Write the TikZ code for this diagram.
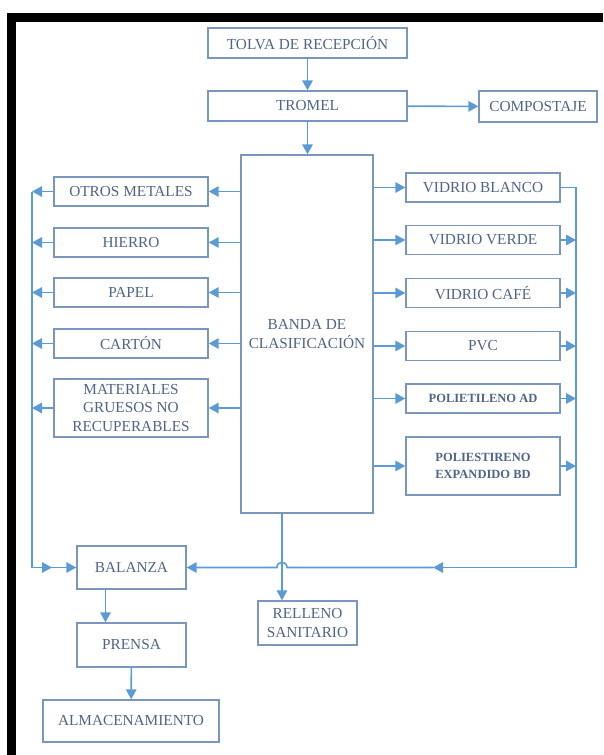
\documentclass[tikz,border=0pt]{standalone}
\usepackage{fontspec}
\setmainfont{Liberation Serif}
\usetikzlibrary{arrows.meta,calc}
\definecolor{boxline}{HTML}{7B96BD}
\definecolor{flow}{HTML}{5B9BD5}
\definecolor{label}{HTML}{506486}
\begin{document}
\begin{tikzpicture}[x=1pt,y=-1pt,
  box/.style={draw=boxline,line width=1.4pt,inner sep=0pt,align=center,
    text=label,font=\fontsize{15.3}{18.5}\selectfont},
  smallbox/.style={box,font=\bfseries\fontsize{12.5}{17}\selectfont},
  conn/.style={draw=flow,line width=1.6pt},
  arr/.style={conn,-{Triangle[length=10pt,width=10.5pt]}}]
\useasboundingbox (0,0) rectangle (603,755);
% black frame along the top and left edges
\fill[black] (7,13) rectangle (603,22);
\fill[black] (7,13) rectangle (16,755);

% process boxes
\node[box,minimum width=199,minimum height=30] (tolva) at (307.5,43) {TOLVA DE RECEPCIÓN};
\node[box,minimum width=199,minimum height=30] (tromel) at (307.5,106) {TROMEL};
\node[box,minimum width=118,minimum height=31] (compost) at (538,106.5) {COMPOSTAJE};
\node[box,minimum width=132,minimum height=358] (banda) at (307,334) {BANDA DE\\CLASIFICACIÓN};

% left column
\node[box,minimum width=154,minimum height=29] (otros) at (131,191.5) {OTROS METALES};
\node[box,minimum width=154,minimum height=29] (hierro) at (131,242.5) {HIERRO};
\node[box,minimum width=154,minimum height=29] (papel) at (131,292.5) {PAPEL};
\node[box,minimum width=154,minimum height=29] (carton) at (131,343.5) {CARTÓN};
\node[box,minimum width=154,minimum height=58] (gruesos) at (131,408) {MATERIALES\\GRUESOS NO\\RECUPERABLES};

% right column
\node[box,minimum width=154,minimum height=29] (blanco) at (483,187.5) {VIDRIO BLANCO};
\node[box,minimum width=154,minimum height=29] (verde) at (483,240) {VIDRIO VERDE};
\node[box,minimum width=154,minimum height=29] (cafe) at (483,293) {VIDRIO CAFÉ};
\node[box,minimum width=154,minimum height=29] (pvc) at (483,346) {PVC};
\node[smallbox,minimum width=154,minimum height=29] (pead) at (483,398.5) {POLIETILENO AD};
\node[smallbox,minimum width=154,minimum height=58] (eps) at (483,466) {POLIESTIRENO\\EXPANDIDO BD};

% lower part
\node[box,minimum width=109,minimum height=43] (balanza) at (131.5,567.5) {BALANZA};
\node[box,minimum width=109,minimum height=44] (prensa) at (131.5,645) {PRENSA};
\node[box,minimum width=176,minimum height=42] (almac) at (131,721) {ALMACENAMIENTO};
\node[box,minimum width=99,minimum height=44] (relleno) at (307.5,623) {RELLENO\\SANITARIO};

% collector lines
\coordinate (lbus) at (32,0);
\coordinate (rbus) at (576,0);
\coordinate (lmid) at (52,0);
\coordinate (rmid) at (433,0);
\coordinate (hop) at (282,0);

% main flow
\draw[arr] (tolva) -- (tromel);
\draw[arr] (tromel) -- (tromel |- banda.north);
\draw[arr] (tromel) -- (compost);

% sorting belt to each fraction
\foreach \n in {otros,hierro,papel,carton,gruesos}
  \draw[arr] (banda.west |- \n) -- (\n.east);
\foreach \n in {blanco,verde,cafe,pvc,pead,eps}
  \draw[arr] (banda.east |- \n) -- (\n.west);

% left collector to the scale
\foreach \n in {otros,hierro,papel,carton,gruesos}
  \draw[arr] (\n.west) -- (\n.west -| lbus);
\draw[conn] (otros.west -| lbus) -- (balanza.west -| lbus) -- (balanza.west -| lmid);
\draw[arr] (balanza.west -| lbus) -- (balanza.west -| lmid);
\draw[arr] (balanza.west -| lmid) -- (balanza.west);

% right collector to the scale
\foreach \n in {verde,cafe,pvc,pead,eps}
  \draw[arr] (\n.east) -- (\n.east -| rbus);
\draw[conn] (blanco.east) -- (blanco.east -| rbus) -- (balanza.east -| rbus) -- (balanza.east -| rmid);
\draw[arr] (balanza.east -| rbus) -- (balanza.east -| rmid);
\draw[arr] (balanza.east -| rmid) -- ($(balanza.east -| hop)+(5,0)$)
  .. controls ($(balanza.east -| hop)+(5,-7)$) and ($(balanza.east -| hop)+(-5,-7)$) .. ($(balanza.east -| hop)+(-5,0)$)
  -- (balanza.east);

% rejects to landfill, scale to press to storage
\draw[arr] (banda.south -| hop) -- (relleno.north -| hop);
\draw[arr] ([xshift=-26pt]balanza.south) -- ([xshift=-26pt]balanza.south |- prensa.north);
\draw[arr] (prensa) -- (almac);
\end{tikzpicture}
\end{document}
